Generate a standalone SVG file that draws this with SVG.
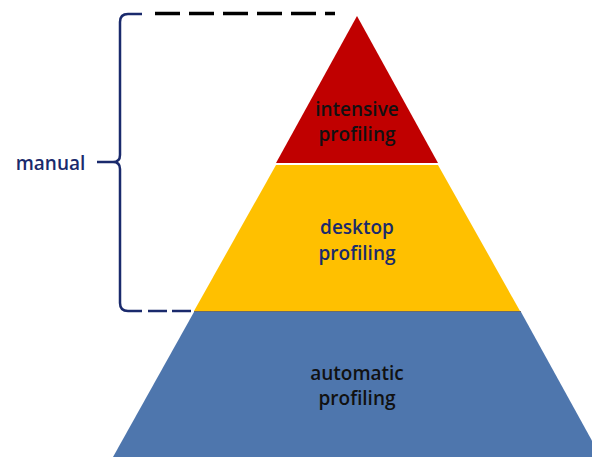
<svg xmlns="http://www.w3.org/2000/svg" width="592" height="457" viewBox="0 0 592 457">
<style>
.lbl{font-family:"Open Sans","DejaVu Sans",sans-serif;font-size:19px;font-weight:600;text-anchor:middle}
.dark{fill:#111}
.navy{fill:#1a2a6c}
</style>
<rect width="592" height="457" fill="#fff"/>
<g id="automatic">
<polygon points="194,312 521,312 601,457 113,457" fill="#4e76ad"/>
<line x1="194" y1="311.5" x2="521" y2="311.5" stroke="#6b6b6b" stroke-width="1"/>
<text class="lbl dark" x="357" y="380">automatic</text>
<text class="lbl dark" x="357" y="405">profiling</text>
</g>
<g id="desktop">
<polygon points="276,165 438,165 520,311 194,311" fill="#ffc000"/>
<text class="lbl navy" x="357" y="234">desktop</text>
<text class="lbl navy" x="357" y="260">profiling</text>
</g>
<g id="intensive">
<polygon points="357,16 438,163 276,163" fill="#c00000"/>
<text class="lbl dark" x="357" y="116">intensive</text>
<text class="lbl dark" x="357" y="141">profiling</text>
</g>
<g id="manual">
<path d="M142,14 L128,14 Q120,14 120,22 L120,155 Q120,162 113,162 L97,162 M113,162 Q120,162 120,169 L120,303 Q120,311 128,311 L142,311" fill="none" stroke="#1a2a6c" stroke-width="2.5"/>
<text class="lbl navy" x="50.5" y="170">manual</text>
</g>
<g id="connectors">
<line x1="155" y1="13.5" x2="335" y2="13.5" stroke="#000" stroke-width="3.5" stroke-dasharray="25,9"/>
<line x1="148" y1="311" x2="194" y2="311" stroke="#1a2a6c" stroke-width="2.5" stroke-dasharray="19,5"/>
</g>
</svg>
